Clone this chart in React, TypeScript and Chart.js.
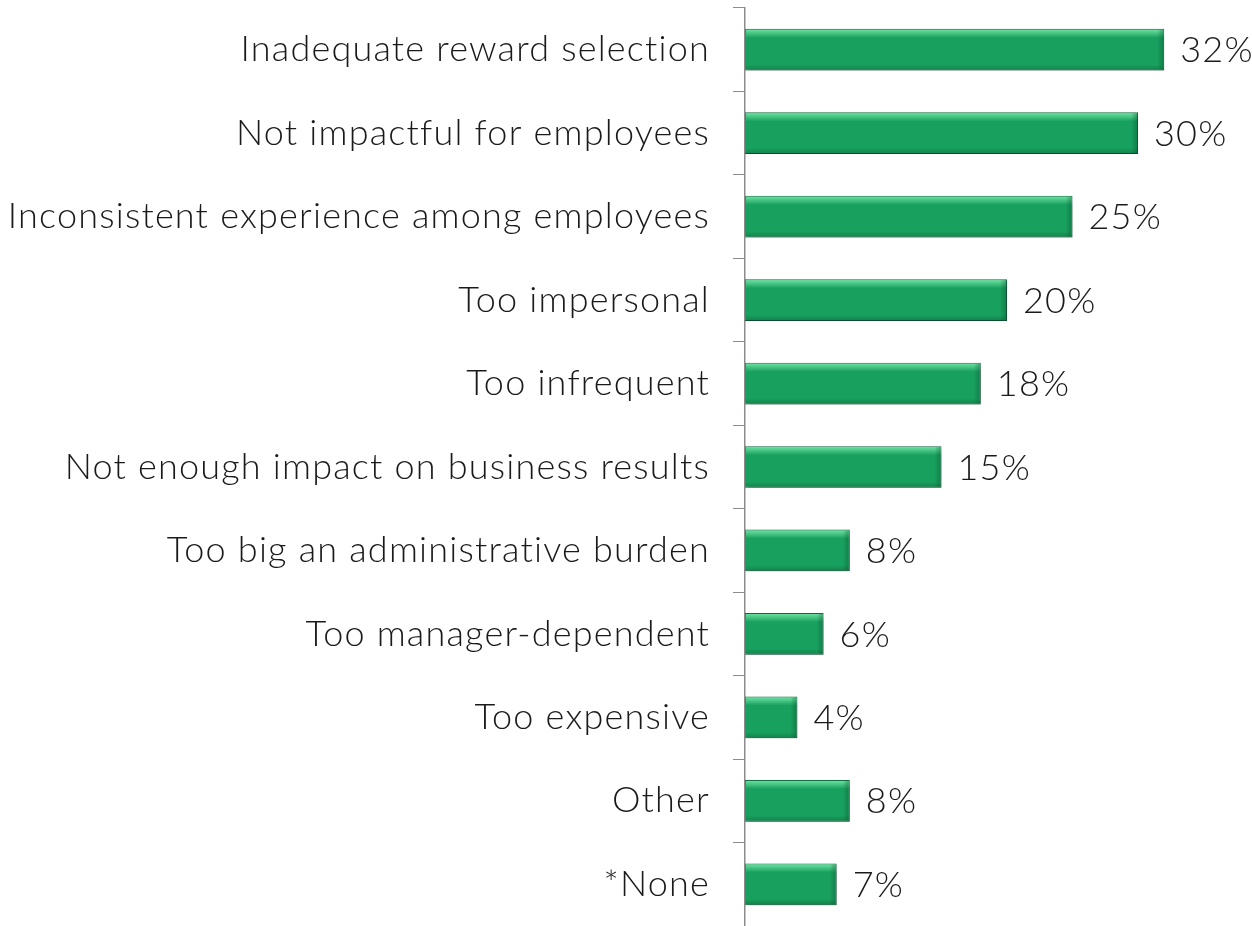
import React, { useEffect, useRef } from "react";
import { Chart, registerables } from "chart.js";

Chart.register(...registerables);

const categories = [
  "Inadequate reward selection",
  "Not impactful for employees",
  "Inconsistent experience among employees",
  "Too impersonal",
  "Too infrequent",
  "Not enough impact on business results",
  "Too big an administrative burden",
  "Too manager-dependent",
  "Too expensive",
  "Other",
  "*None",
];
const values = [32, 30, 25, 20, 18, 15, 8, 6, 4, 8, 7];
const valueLabels = ["32%", "30%", "25%", "20%", "18%", "15%", "8%", "6%", "4%", "8%", "7%"];

const FONT = "Lato, 'Open Sans', sans-serif";
const FONT_SIZE = 36;
const SPACING = "1.2px";

export default function App() {
  const ref = useRef<HTMLCanvasElement | null>(null);
  useEffect(() => {
    document.body.style.margin = "0";
    const canvas = ref.current!;
    const spacing = {
      id: "spacing",
      beforeDraw(chart: any) {
        chart.ctx.letterSpacing = SPACING;
      },
    };
    const barStyle = {
      id: "barStyle",
      beforeDatasetsDraw(chart: any) {
        const ctx = chart.ctx;
        ctx.save();
        ctx.shadowColor = "rgba(0,0,0,0.25)";
        ctx.shadowBlur = 4;
        ctx.shadowOffsetX = 2;
        ctx.shadowOffsetY = 5;
      },
      afterDatasetsDraw(chart: any) {
        const ctx = chart.ctx;
        ctx.restore();
        const meta = chart.getDatasetMeta(0);
        ctx.save();
        meta.data.forEach((bar: any, i: number) => {
          const left = bar.base;
          const right = bar.x;
          const top = bar.y - bar.height / 2;
          const bottom = bar.y + bar.height / 2;
          const g = ctx.createLinearGradient(0, top, 0, top + 9);
          g.addColorStop(0, "rgba(120,235,170,0.95)");
          g.addColorStop(1, "rgba(120,235,170,0)");
          ctx.fillStyle = g;
          ctx.fillRect(left + 1, top + 1, right - left - 2, 9);
          const g2 = ctx.createLinearGradient(right - 7, 0, right, 0);
          g2.addColorStop(0, "rgba(10,80,45,0)");
          g2.addColorStop(1, "rgba(10,80,45,0.45)");
          ctx.fillStyle = g2;
          ctx.fillRect(right - 7, top + 1, 6, bottom - top - 2);
          const g3 = ctx.createLinearGradient(0, bottom - 6, 0, bottom);
          g3.addColorStop(0, "rgba(10,80,45,0)");
          g3.addColorStop(1, "rgba(10,80,45,0.4)");
          ctx.fillStyle = g3;
          ctx.fillRect(left + 1, bottom - 6, right - left - 2, 5);
          ctx.fillStyle = "#1a1a1a";
          ctx.font = `300 ${FONT_SIZE}px ${FONT}`;
          ctx.letterSpacing = SPACING;
          ctx.textAlign = "left";
          ctx.textBaseline = "middle";
          ctx.fillText(valueLabels[i], right + 16, bar.y + 1);
        });
        ctx.restore();
      },
    };
    const chart = new Chart(canvas, {
      type: "bar",
      data: {
        labels: categories,
        datasets: [
          {
            data: values,
            backgroundColor: "#18a05e",
            borderColor: "#0e6a3d",
            borderWidth: 1,
            barPercentage: 0.5,
            categoryPercentage: 1,
          },
        ],
      },
      options: {
        indexAxis: "y",
        animation: false,
        responsive: false,
        maintainAspectRatio: false,
        layout: { padding: { top: 8, bottom: 0, left: 0, right: 0 } },
        plugins: { legend: { display: false }, tooltip: { enabled: false } },
        scales: {
          x: { display: false, min: 0, max: 38.7 },
          y: {
            afterFit(scale: any) {
              scale.width = 745;
              scale.paddingTop = 0;
              scale.paddingBottom = 0;
            },
            border: { color: "#8c8c8c", width: 1.5 },
            grid: {
              drawOnChartArea: false,
              drawTicks: true,
              tickLength: 12,
              tickColor: "#8c8c8c",
              offset: true,
            },
            ticks: {
              color: "#1a1a1a",
              padding: 23,
              font: { family: FONT, size: FONT_SIZE, weight: "300" as any },
            },
          },
        },
      },
      plugins: [spacing, barStyle],
    });
    return () => chart.destroy();
  }, []);
  return (
    <div style={{ width: 1252, height: 926, background: "#fff" }}>
      <canvas ref={ref} width={1252} height={926} style={{ display: "block" }} />
    </div>
  );
}
